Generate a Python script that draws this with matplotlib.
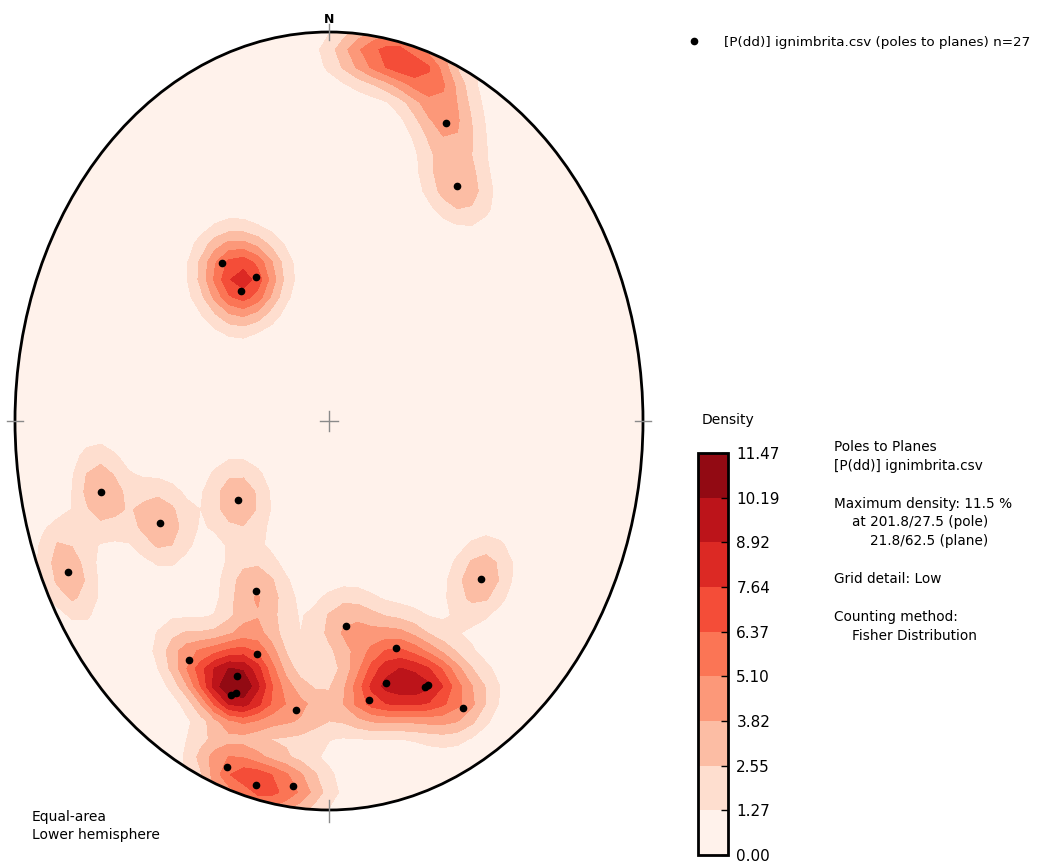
import numpy as np
import matplotlib.pyplot as plt
from matplotlib.patches import Circle

# planes read from ignimbrita.csv: dip direction / dip in degrees
dip_direction = [206, 214, 140, 148, 140, 76, 64, 55, 65, 28, 354, 310,
                 36, 21, 24, 24, 23, 8, 340, 345, 336, 335, 350, 330,
                 20, 14, 7]
dip = [74, 62, 44, 36, 36, 64, 50, 29, 81, 41, 44, 53,
       65, 54, 61, 66, 65, 64, 52, 59, 64, 64, 62, 74,
       84, 86, 84]

density_levels = [0.00, 1.27, 2.55, 3.82, 5.10, 6.37, 7.64, 8.92, 10.19, 11.47]
fisher_k = 100
grid_nodes = 45      # "low" grid detail
edge_plunge = 8      # poles this close to the primitive count on both sides

W, H = 1038, 863


def to_xyz(trend, plunge):
    t = np.radians(trend)
    p = np.radians(plunge)
    return np.column_stack([np.cos(p) * np.sin(t), np.cos(p) * np.cos(t), -np.sin(p)])


def equal_area(trend, plunge):
    r = np.sqrt(2) * np.sin(np.radians(90 - np.asarray(plunge)) / 2)
    t = np.radians(trend)
    return r * np.sin(t), r * np.cos(t)


# poles to planes
pole_trend = (np.array(dip_direction) + 180) % 360
pole_plunge = 90 - np.array(dip)
poles = to_xyz(pole_trend, pole_plunge)

# near-horizontal poles are repeated on the opposite side of the net
near = pole_plunge < edge_plunge
counted = np.vstack([poles, to_xyz(pole_trend[near] + 180, pole_plunge[near])])

# fisher density on a grid over the projection
g = np.linspace(-1, 1, grid_nodes)
gx, gy = np.meshgrid(g, g)
gr = np.clip(np.hypot(gx, gy), 0, 1)
theta = 2 * np.arcsin(gr / np.sqrt(2))
az = np.arctan2(gx, gy)
nodes = np.column_stack([(np.sin(theta) * np.sin(az)).ravel(),
                         (np.sin(theta) * np.cos(az)).ravel(),
                         (-np.cos(theta)).ravel()])
cosines = nodes @ counted.T
density = np.exp(fisher_k * (cosines - 1)).sum(axis=1) / len(poles) * 100
density = np.minimum(density.reshape(gx.shape), density_levels[-1])

nbands = len(density_levels) - 1
band_colors = plt.get_cmap('Reds')((np.arange(nbands) + 0.2) / nbands)

fig = plt.figure(figsize=(W / 100, H / 100), dpi=100)
ax = fig.add_axes([15 / W, 1 - 810 / H, 628 / W, 778 / H])
ax.set_xlim(-1, 1)
ax.set_ylim(-1, 1)
ax.axis('off')

cs = ax.contourf(gx, gy, density, levels=density_levels, colors=band_colors)
rim = Circle((0, 0), 1, transform=ax.transData)
cs.set_clip_path(rim)

ax.add_patch(Circle((0, 0), 1, fill=False, ec='k', lw=2, clip_on=False, zorder=5))

# cardinal ticks and centre cross
tick_col = '#8a8a8a'
ax.plot([0, 0], [0.98, 1.02], color=tick_col, lw=1, clip_on=False, zorder=6)
ax.plot([0, 0], [-1.03, -0.975], color=tick_col, lw=1, clip_on=False, zorder=6)
ax.plot([-1.025, -0.975], [0, 0], color=tick_col, lw=1, clip_on=False, zorder=6)
ax.plot([0.975, 1.025], [0, 0], color=tick_col, lw=1, clip_on=False, zorder=6)
ax.plot([-0.03, 0.03], [0, 0], color=tick_col, lw=1, zorder=6)
ax.plot([0, 0], [-0.025, 0.025], color=tick_col, lw=1, zorder=6)
ax.text(0, 1.024, 'N', ha='center', va='baseline', fontsize=9, fontweight='bold')

px, py = equal_area(pole_trend, pole_plunge)
ax.plot(px, py, 'o', color='k', ms=4.5, zorder=7,
        label='[P(dd)] ignimbrita.csv (poles to planes) n=%d' % len(poles))

fig.legend(loc='upper left', bbox_to_anchor=(681 / W, 1 - 36 / H), frameon=False,
           fontsize=9.7, borderpad=0, borderaxespad=0, numpoints=1,
           handlelength=2, handletextpad=1.2)

# colorbar
cax = fig.add_axes([698 / W, 1 - 855 / H, 30 / W, 402 / H])
cb = fig.colorbar(cs, cax=cax, ticks=density_levels, format='%.2f')
cb.outline.set_linewidth(2)
cax.tick_params(direction='in', length=5, width=1, labelsize=11, pad=6)
fig.text(702 / W, 1 - 420 / H, 'Density', fontsize=10, va='center')

# summary text
info = [
    ('Poles to Planes', 834, 447),
    ('[P(dd)] ignimbrita.csv', 834, 466),
    ('Maximum density: 11.5 %', 834, 504),
    ('at 201.8/27.5 (pole)', 852, 522),
    ('21.8/62.5 (plane)', 870, 541),
    ('Grid detail: Low', 834, 579),
    ('Counting method:', 834, 617),
    ('Fisher Distribution', 852, 636),
]
for s, x, y in info:
    fig.text(x / W, 1 - y / H, s, fontsize=9.8, va='center')

fig.text(32 / W, 1 - 817 / H, 'Equal-area', fontsize=10, va='center')
fig.text(32 / W, 1 - 835 / H, 'Lower hemisphere', fontsize=10, va='center')

fig.savefig('out.png', dpi=100)
